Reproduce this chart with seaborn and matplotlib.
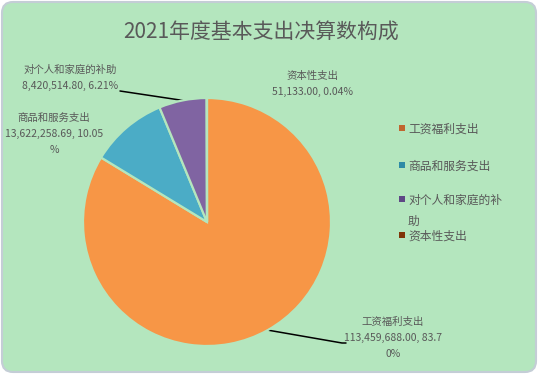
import numpy as np
import matplotlib
matplotlib.use("Agg")
import matplotlib.pyplot as plt
import seaborn as sns
from matplotlib.patches import FancyBboxPatch, Rectangle

# data
categories = ["工资福利支出", "商品和服务支出", "对个人和家庭的补助", "资本性支出"]
amounts = [113459688.00, 13622258.69, 8420514.80, 51133.00]
percents = ["83.70%", "10.05%", "6.21%", "0.04%"]
legend_labels = ["工资福利支出", "商品和服务支出", "对个人和家庭的补\n助", "资本性支出"]
title = "2021年度基本支出决算数构成"

sns.set_style("white")
plt.rcParams["font.family"] = ["Noto Sans CJK SC", "DejaVu Sans"]

pie_colors = sns.color_palette(["#F79646", "#4BACC6", "#8064A2", "#8B3A0E"])
marker_colors = ["#C0652F", "#2E8BA6", "#5E4785", "#7F3508"]
bg = "#B4E6BE"
txt = "#595959"

W, H = 539, 375
fig = plt.figure(figsize=(W / 100, H / 100), dpi=100)
fig.patch.set_facecolor("white")

# full-figure axes in pixel units (origin top-left) for the frame, texts, legend
base = fig.add_axes([0, 0, 1, 1])
base.set_xlim(0, W)
base.set_ylim(H, 0)
base.axis("off")
base.add_patch(FancyBboxPatch((2, 2), W - 5, H - 5,
                              boxstyle="round,pad=0,rounding_size=11",
                              fc=bg, ec="#C4CDD6", lw=1.5))
base.text(W / 2 - 8, 32, title, ha="center", va="center", fontsize=15, color=txt)

# pie axes: centre (207, 222) px, radius 124 px
cx, cy, r = 207, 222, 124
ax = fig.add_axes([(cx - r) / W, (H - cy - r) / H, 2 * r / W, 2 * r / H])
wedges, _ = ax.pie(amounts, colors=pie_colors, startangle=90, counterclock=False,
                   wedgeprops=dict(edgecolor=bg, linewidth=1.6))
ax.set_xlim(-1, 1)
ax.set_ylim(-1, 1)
ax.axis("off")

# data labels
label_pos = [(393, 323), (54, 119), (70, 71), (312, 77)]
value_text = []
for amt, pct in zip(amounts, percents):
    value_text.append(f"{amt:,.2f}, {pct}")
wrapped = [
    f"{categories[0]}\n113,459,688.00, 83.7\n0%",
    f"{categories[1]}\n13,622,258.69, 10.05\n%",
    f"{categories[2]}\n{value_text[2]}",
    f"{categories[3]}\n{value_text[3]}",
]
for (x, y), s in zip(label_pos, wrapped):
    base.text(x, y - 6, s, ha="center", va="top", fontsize=7.5, color=txt,
              linespacing=1.75)

# leader lines from wedge middles
line_ends = {0: [(342, 343), (346, 343)], 2: [(120, 91)]}
for i, pts in line_ends.items():
    w = wedges[i]
    th = np.deg2rad((w.theta1 + w.theta2) / 2)
    px = cx + r * np.cos(th)
    py = cy - r * np.sin(th)
    xs = [px] + [p[0] for p in pts]
    ys = [py] + [p[1] for p in pts]
    base.plot(xs, ys, color="black", lw=1.1, zorder=5)

# legend
leg_y = [130, 167, 201, 237]
for y, lab, c in zip(leg_y, legend_labels, marker_colors):
    base.add_patch(Rectangle((399, y - 5), 5.5, 5.5, fc=c, ec="none"))
    base.text(408, y - 7, lab, ha="left", va="top", fontsize=8.5, color=txt,
              linespacing=1.75)

fig.savefig("out.png", dpi=100, facecolor=fig.get_facecolor())
